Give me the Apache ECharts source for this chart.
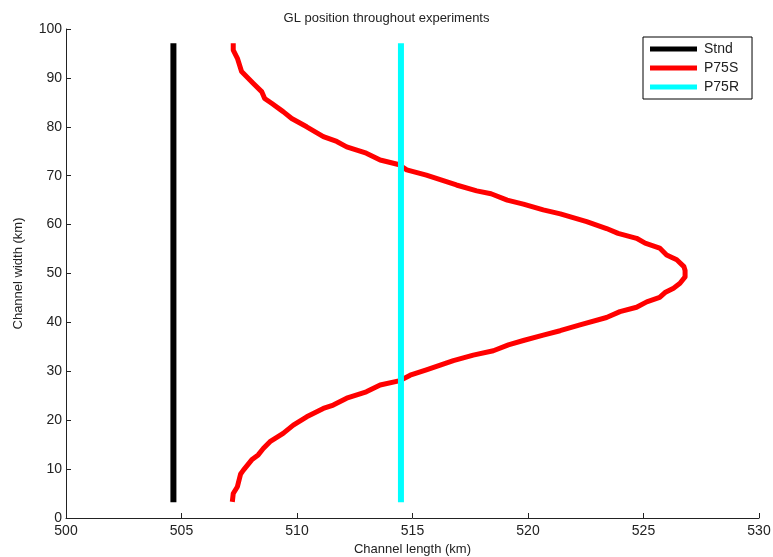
<!DOCTYPE html>
<html>
<head>
<meta charset="utf-8">
<script src="https://cdn.jsdelivr.net/npm/echarts@6/dist/echarts.min.js"></script>
<style>html,body{margin:0;padding:0;background:#fff;}#c{width:773px;height:557px;}</style>
</head>
<body>
<div id="c"></div>
<script>
const seriesNames = ['Stnd', 'P75S', 'P75R'];
const stndX = [504.65, 504.65];
const stndY = [3.2, 97.1];
const p75rX = [514.5, 514.5];
const p75rY = [3.2, 97.1];
const p75sX = [507.24, 507.24, 507.42, 507.6, 507.68, 508.1, 508.47, 508.6, 508.9, 509.4, 509.77, 510.42, 511.14, 511.72, 512.15, 513.0, 513.6, 514.39, 514.75, 515.6, 516.9, 517.78, 518.4, 519.1, 519.8, 520.66, 521.4, 522.54, 523.4, 523.9, 524.7, 525.07, 525.7, 526.0, 526.44, 526.75, 526.8, 526.8, 526.58, 526.3, 525.93, 525.7, 525.14, 524.7, 523.98, 523.4, 522.25, 521.39, 520.66, 519.8, 519.15, 518.5, 517.63, 516.77, 515.6, 514.9, 514.46, 513.6, 513.0, 512.15, 511.57, 511.14, 510.42, 509.84, 509.4, 508.83, 508.54, 508.32, 508.04, 507.68, 507.56, 507.42, 507.24, 507.2];
const p75sY = [97.1, 95.7, 94.0, 91.3, 90.9, 88.9, 87.2, 85.8, 84.8, 83.1, 81.7, 80.0, 78.0, 77.0, 75.9, 74.6, 73.2, 72.3, 71.2, 70.1, 68.1, 66.9, 66.3, 65.0, 64.2, 63.0, 62.2, 60.6, 59.2, 58.2, 57.2, 56.2, 55.2, 53.8, 52.8, 51.4, 50.6, 49.3, 48.0, 47.0, 46.1, 45.1, 44.2, 43.1, 42.2, 41.0, 39.5, 38.3, 37.4, 36.3, 35.4, 34.2, 33.3, 32.2, 30.3, 29.2, 28.1, 27.2, 25.8, 24.5, 23.1, 22.4, 20.7, 19.0, 17.3, 15.6, 14.2, 12.9, 11.9, 9.8, 9.0, 6.4, 5.0, 3.3];
const colors = ['#000000', '#ff0000', '#00ffff'];
const font = 'Liberation Sans, Arial, Helvetica, sans-serif';

function pairs(xs, ys) { return xs.map((x, i) => [x, ys[i]]); }

const chart = echarts.init(document.getElementById('c'), null, {renderer: 'canvas'});
chart.setOption({
  animation: false,
  backgroundColor: '#fff',
  title: {
    text: 'GL position throughout experiments',
    left: 'center', top: 7,
    textStyle: {fontFamily: font, fontSize: 13, fontWeight: 'normal', color: '#222'}
  },
  legend: {
    orient: 'vertical',
    left: 643, top: 37,
    width: 110,
    data: seriesNames,
    icon: 'rect',
    itemWidth: 47, itemHeight: 5, itemGap: 5,
    padding: [5, 13, 5, 7],
    borderColor: '#000', borderWidth: 1,
    backgroundColor: '#fff',
    textStyle: {fontFamily: font, fontSize: 14, color: '#222', padding: [0, 0, 0, 2]}
  },
  grid: {left: 66, right: 14, top: 29, bottom: 39, containLabel: false, outerBoundsMode: 'none'},
  xAxis: {
    type: 'value', min: 500, max: 530, interval: 5,
    name: 'Channel length (km)', nameLocation: 'middle', nameGap: 24,
    nameTextStyle: {fontFamily: font, fontSize: 13, color: '#222'},
    axisLine: {show: true, lineStyle: {color: '#222', width: 1}},
    axisTick: {show: true, inside: true, length: 5, lineStyle: {color: '#222'}},
    axisLabel: {fontFamily: font, fontSize: 14, color: '#222', margin: 6},
    splitLine: {show: false}
  },
  yAxis: {
    type: 'value', min: 0, max: 100, interval: 10,
    name: 'Channel width (km)', nameLocation: 'middle', nameGap: 41,
    nameTextStyle: {fontFamily: font, fontSize: 13, color: '#222'},
    axisLine: {show: true, lineStyle: {color: '#222', width: 1}},
    axisTick: {show: true, inside: true, length: 5, lineStyle: {color: '#222'}},
    axisLabel: {fontFamily: font, fontSize: 14, color: '#222', margin: 4},
    splitLine: {show: false}
  },
  series: [
    {name: seriesNames[0], type: 'line', data: pairs(stndX, stndY), showSymbol: false, symbol: 'none',
     lineStyle: {color: colors[0], width: 6, cap: 'butt'}, itemStyle: {color: colors[0]}},
    {name: seriesNames[1], type: 'line', data: pairs(p75sX, p75sY), showSymbol: false, symbol: 'none',
     lineStyle: {color: colors[1], width: 5, cap: 'butt', join: 'round'}, itemStyle: {color: colors[1]}},
    {name: seriesNames[2], type: 'line', data: pairs(p75rX, p75rY), showSymbol: false, symbol: 'none',
     lineStyle: {color: colors[2], width: 6, cap: 'butt'}, itemStyle: {color: colors[2]}}
  ]
});
</script>
</body>
</html>
